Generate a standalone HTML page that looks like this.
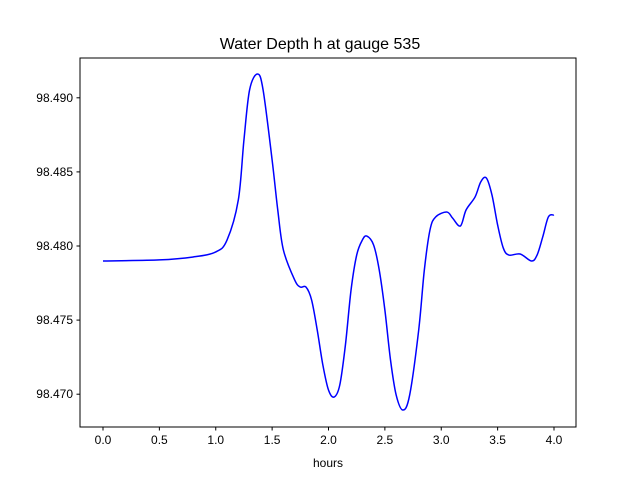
<!DOCTYPE html>
<html><head><meta charset="utf-8"><style>
body{margin:0;background:#fff;font-family:"Liberation Sans","DejaVu Sans",sans-serif;}
svg{display:block}
</style></head><body>
<svg id="chart" width="640" height="480" xmlns="http://www.w3.org/2000/svg"></svg>
<script>
const xs=[0,0.5,0.8,1.0,1.1,1.2,1.25,1.3,1.37,1.42,1.5,1.55,1.6,1.7,1.75,1.8,1.85,1.9,1.95,2.0,2.05,2.1,2.15,2.2,2.25,2.3,2.34,2.4,2.45,2.5,2.55,2.6,2.66,2.72,2.8,2.85,2.9,2.95,3.05,3.1,3.17,3.22,3.3,3.35,3.4,3.45,3.5,3.55,3.6,3.7,3.8,3.85,3.9,3.95,4.0];
const ys=[98.47899,98.47906,98.47926,98.47960,98.48040,98.48310,98.48715,98.49053,98.49161,98.49053,98.48580,98.48243,98.47973,98.47771,98.47723,98.47723,98.47636,98.47433,98.47197,98.47028,98.46981,98.47062,98.47332,98.47703,98.47939,98.48040,98.48067,98.48007,98.47838,98.47568,98.47231,98.46995,98.46893,98.46995,98.47433,98.47838,98.48108,98.48196,98.48229,98.48189,98.48135,98.48243,98.48331,98.48432,98.48459,98.48344,98.48142,98.47987,98.47939,98.47946,98.47899,98.47939,98.48061,98.48196,98.48209];
const xTicks=[0,0.5,1.0,1.5,2.0,2.5,3.0,3.5,4.0];
const yTicks=[98.470,98.475,98.480,98.485,98.490];
const L=80,R=576,T=58,B=427;
const X=v=>103+v*112.75;
const Y=v=>246-(v-98.48)/0.005*74.1;
const svg=document.getElementById('chart');
const NS='http://www.w3.org/2000/svg';
function mk(tag,attrs,parent){const e=document.createElementNS(NS,tag);for(const k in attrs)e.setAttribute(k,attrs[k]);(parent||svg).appendChild(e);return e;}
let t=mk('text',{x:320,y:49,'text-anchor':'middle','font-size':16});t.textContent='Water Depth h at gauge 535';


const pts=xs.map((x,i)=>[X(x),Y(ys[i])]);
let d='M'+pts[0][0]+','+pts[0][1];
for(let i=0;i<pts.length-1;i++){const p0=pts[Math.max(0,i-1)],p1=pts[i],p2=pts[i+1],p3=pts[Math.min(pts.length-1,i+2)];
d+=' C'+(p1[0]+(p2[0]-p0[0])/6)+','+(p1[1]+(p2[1]-p0[1])/6)+' '+(p2[0]-(p3[0]-p1[0])/6)+','+(p2[1]-(p3[1]-p1[1])/6)+' '+p2[0]+','+p2[1];}
let line=mk('path',{d:d,fill:'none',stroke:'#0000ff','stroke-width':1.5});


let fr=mk('rect',{x:L,y:T,width:R-L,height:B-T,fill:'none',stroke:'#000','stroke-width':1});


xTicks.forEach(v=>{const x=X(v);mk('line',{x1:x,x2:x,y1:B,y2:B+3.5,stroke:'#000'});
const tx=mk('text',{x:x,y:B+17,'text-anchor':'middle','font-size':12});tx.textContent=v.toFixed(1);

});
yTicks.forEach(v=>{const y=Y(v);mk('line',{x1:L-3.5,x2:L,y1:y,y2:y,stroke:'#000'});
const tx=mk('text',{x:L-7,y:y+4,'text-anchor':'end','font-size':12});tx.textContent=v.toFixed(3);

});
let xl=mk('text',{x:328,y:467,'text-anchor':'middle','font-size':12});xl.textContent='hours';


</script>
</body></html>
